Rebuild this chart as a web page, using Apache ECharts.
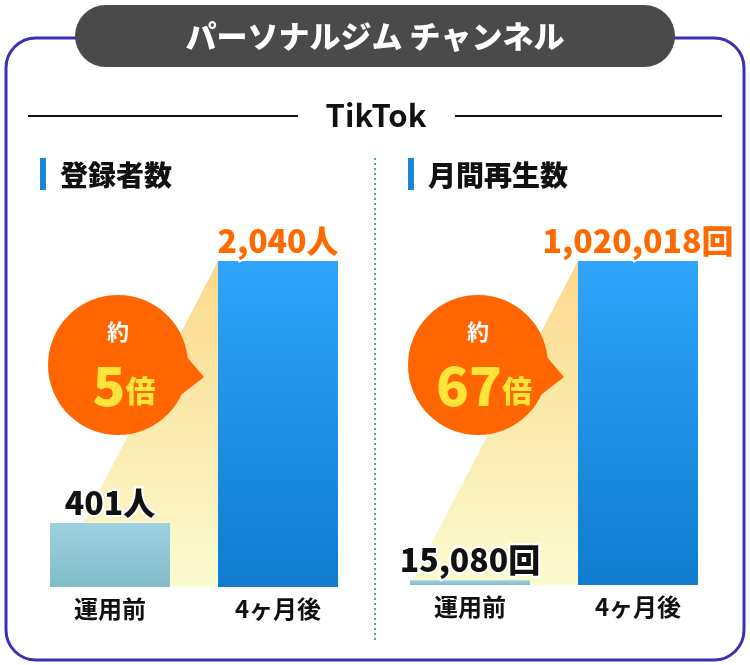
<!DOCTYPE html>
<html><head><meta charset="utf-8">
<script src="https://cdn.jsdelivr.net/npm/echarts@6/dist/echarts.min.js"></script>
<style>html,body{margin:0;padding:0;background:#fff}#c{width:750px;height:665px}</style>
</head><body><div id="c"></div>
<script>
const categories = ['運用前', '4ヶ月後'];
const subscribers = [401, 2040];
const monthlyViews = [15080, 1020018];
const subscriberLabels = ['401人', '2,040人'];
const viewLabels = ['15,080回', '1,020,018回'];
const ratios = ['5', '67'];

const F = '"Noto Sans CJK JP", sans-serif';
const chart = echarts.init(document.getElementById('c'));
const beforeColor = new echarts.graphic.LinearGradient(0,0,0,1,[{offset:0,color:'#9dd0e0'},{offset:1,color:'#82bccb'}]);
const afterColor = new echarts.graphic.LinearGradient(0,0,0,1,[{offset:0,color:'#2ea4fa'},{offset:1,color:'#0f7cd0'}]);

function barSeries(idx, data, labels){
  return {
    type:'bar', xAxisIndex:idx, yAxisIndex:idx, barWidth:120, z:5,
    data: data.map((v,i)=>({value:v, itemStyle:{color: i===0?beforeColor:afterColor},
      label:{show:true, position:'top', distance:4, formatter: labels[i],
        color: i===0?'#111':'#ff6a00', fontSize:32, fontWeight:900, fontFamily:F,
        textBorderColor:'#fff', textBorderWidth:4}})),
  };
}
const xa = (idx)=>({type:'category', gridIndex:idx, data:categories,
  axisLine:{show:false}, axisTick:{show:false},
  axisLabel:{color:'#111', fontSize:24, fontWeight:'bold', fontFamily:F, margin:10}});
const ya = (idx,max)=>({type:'value', gridIndex:idx, min:0, max:max, show:false, splitLine:{show:false}});

chart.setOption({
  animation:false,
  grid:[{left:26, width:336, top:261, bottom:78},{left:386, width:336, top:261, bottom:80}],
  xAxis:[xa(0), xa(1)],
  yAxis:[ya(0, subscribers[1]), ya(1, monthlyViews[1])],
  series:[barSeries(0, subscribers, subscriberLabels), barSeries(1, monthlyViews, viewLabels)]
});

function build(){
  const g = [];
  g.push({type:'rect', shape:{x:6,y:38,width:738,height:622,r:30}, style:{fill:'#fff',stroke:'#3b2fb5',lineWidth:3}, z:0});
  g.push({type:'rect', shape:{x:75,y:5,width:600,height:62,r:31}, style:{fill:'#4a4a4a'}, z:1});
  g.push({type:'text', x:375, y:36, style:{text:'パーソナルジム チャンネル', fill:'#fff', font:'900 31px '+F, align:'center', verticalAlign:'middle'}, z:2});
  g.push({type:'line', shape:{x1:28,y1:116,x2:298,y2:116}, style:{stroke:'#111',lineWidth:2}});
  g.push({type:'line', shape:{x1:455,y1:116,x2:722,y2:116}, style:{stroke:'#111',lineWidth:2}});
  g.push({type:'text', x:376, y:115, style:{text:'TikTok', fill:'#111', font:'bold 31px '+F, align:'center', verticalAlign:'middle'}});
  g.push({type:'line', shape:{x1:375,y1:158,x2:375,y2:640}, style:{stroke:'#4aa0c8',lineWidth:2,lineDash:[2,3]}});
  [[40,'登録者数'],[408,'月間再生数']].forEach(([x,t])=>{
    g.push({type:'rect', shape:{x:x,y:158,width:6,height:32}, style:{fill:'#1a86d8'}});
    g.push({type:'text', x:x+20, y:175, style:{text:t, fill:'#111', font:'900 28px '+F, verticalAlign:'middle'}});
  });
  [[0,subscribers],[1,monthlyViews]].forEach(([idx,data],k)=>{
    const p0 = chart.convertToPixel({xAxisIndex:idx,yAxisIndex:idx},[0,0]);
    const p1 = chart.convertToPixel({xAxisIndex:idx,yAxisIndex:idx},[1,data[1]]);
    const b1 = chart.convertToPixel({xAxisIndex:idx,yAxisIndex:idx},[1,0]);
    const lx = p0[0]-60, rx = p1[0]-60;
    g.push({type:'polygon', z:1, shape:{points:[[lx,b1[1]],[rx,p1[1]],[rx,b1[1]]]},
      style:{fill:new echarts.graphic.LinearGradient(0,0,0,1,[{offset:0,color:'#fbd88a'},{offset:1,color:'#fbfbd0'}])}});
    const cx = lx+68, cy = 365;
    g.push({type:'polygon', z:10, shape:{points:[[cx+50,cy-30],[cx+86,cy+12],[cx+50,cy+40]]}, style:{fill:'#ff6500'}});
    g.push({type:'circle', z:10, shape:{cx:cx,cy:cy,r:70}, style:{fill:'#ff6500'}});
    g.push({type:'text', z:11, x:cx, y:cy-33, style:{text:'約', fill:'#fff', font:'bold 22px '+F, align:'center', verticalAlign:'middle'}});
    g.push({type:'text', z:11, x:cx+6, y:cy+20, style:{
      text:'{n|'+ratios[k]+'}{b|倍}', align:'center', verticalAlign:'middle',
      rich:{n:{fill:'#ffe53a', font:'900 54px '+F, textShadowColor:'#b81a00', textShadowOffsetX:3, textShadowOffsetY:3},
            b:{fill:'#ffe53a', font:'900 30px '+F, textShadowColor:'#b81a00', textShadowOffsetX:2, textShadowOffsetY:2, padding:[12,0,0,0]}}}});
  });
  chart.setOption({graphic:g});
}
build();
</script></body></html>
